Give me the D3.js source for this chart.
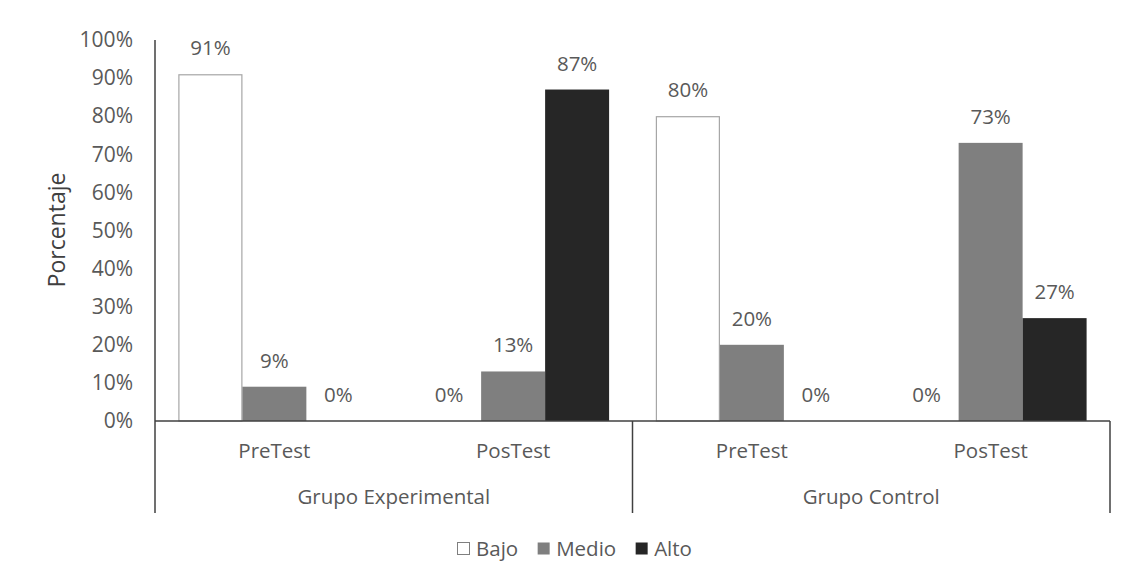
<!DOCTYPE html>
<html><head><meta charset="utf-8">
<script src="https://cdn.jsdelivr.net/npm/d3@7"></script>
<style>body{margin:0;background:#fff}</style>
</head><body>
<script>
const groups = ["Grupo Experimental", "Grupo Control"];
const tests = ["PreTest", "PosTest"];
const seriesNames = ["Bajo", "Medio", "Alto"];
const bajo  = [91, 0, 80, 0];
const medio = [9, 13, 20, 73];
const alto  = [0, 87, 0, 27];
const yTicks = [0,10,20,30,40,50,60,70,80,90,100];

const W = 1124, H = 575;
const m = {left:155, right:14, top:40, bottom:154};
const fills = {Bajo:"#ffffff", Medio:"#7f7f7f", Alto:"#262626"};
const strokes = {Bajo:"#a6a6a6", Medio:"none", Alto:"none"};
const font = "'Open Sans', sans-serif";
const txt = "#595959";
const fs = 20.5;

const svg = d3.select("body").append("svg").attr("width",W).attr("height",H);
const cats = [];
groups.forEach(g => tests.forEach(t => cats.push(g+"|"+t)));
const values = {Bajo:bajo, Medio:medio, Alto:alto};

const x0 = d3.scaleBand().domain(cats).range([m.left, W-m.right]).paddingInner(0.196).paddingOuter(0.098);
const x1 = d3.scaleBand().domain(seriesNames).range([0, x0.bandwidth()]);
const y = d3.scaleLinear().domain([0,100]).range([H-m.bottom, m.top]);
const y0 = y(0);

// bars
cats.forEach((c,i) => {
  seriesNames.forEach(s => {
    const v = values[s][i];
    const bx = x0(c)+x1(s);
    if (v>0) {
      svg.append("rect").attr("x", bx+(s==="Bajo"?0.5:0)).attr("y", y(v)+(s==="Bajo"?0.5:0))
        .attr("width", x1.bandwidth()-(s==="Bajo"?1:0)).attr("height", y0-y(v)-(s==="Bajo"?0.5:0))
        .attr("fill", fills[s]).attr("stroke", strokes[s]).attr("stroke-width",1.2);
    }
    svg.append("text").attr("x", bx+x1.bandwidth()/2).attr("y", y(v)-19)
      .attr("text-anchor","middle").attr("font-family",font).attr("font-size",fs).attr("fill",txt)
      .text(v+"%");
  });
});

// y axis
const yAxis = d3.axisLeft(y).tickValues(yTicks).tickFormat(d=>d+"%").tickSize(0).tickPadding(22);
const ga = svg.append("g").attr("transform",`translate(${m.left},0)`).call(yAxis);
ga.select(".domain").remove();
ga.selectAll("text").attr("font-family",font).attr("font-size",21).attr("fill",txt);

// axis lines
const lc = "#404040";
svg.append("line").attr("x1",m.left).attr("x2",m.left).attr("y1",m.top).attr("y2",513).attr("stroke",lc).attr("stroke-width",1.5);
svg.append("line").attr("x1",m.left).attr("x2",W-m.right).attr("y1",y0).attr("y2",y0).attr("stroke",lc).attr("stroke-width",1.5);
const gx = d3.scaleBand().domain(groups).range([m.left, W-m.right]);
groups.forEach((g,i)=>{
  const xr = gx(g)+gx.bandwidth();
  svg.append("line").attr("x1",xr).attr("x2",xr).attr("y1",y0).attr("y2",513).attr("stroke",lc).attr("stroke-width",1.5);
  svg.append("text").attr("x", gx(g)+gx.bandwidth()/2).attr("y",504).attr("text-anchor","middle")
    .attr("font-family",font).attr("font-size",fs).attr("fill",txt).text(g);
});
cats.forEach(c=>{
  svg.append("text").attr("x", x0(c)+x0.bandwidth()/2).attr("y",458).attr("text-anchor","middle")
    .attr("font-family",font).attr("font-size",fs).attr("fill",txt).text(c.split("|")[1]);
});

// y title
svg.append("text").attr("transform","translate(65,230) rotate(-90)").attr("text-anchor","middle")
  .attr("font-family",font).attr("font-size",23).attr("fill","#404040").text("Porcentaje");

// legend
const leg = svg.append("g");
let lx = 457;
seriesNames.forEach(s=>{
  leg.append("rect").attr("x",lx+0.5).attr("y",542.5).attr("width",12).attr("height",12)
    .attr("fill",fills[s]).attr("stroke", s==="Bajo"?"#7f7f7f":"none");
  const t = leg.append("text").attr("x",lx+19).attr("y",556).attr("font-family",font).attr("font-size",fs).attr("fill",txt).text(s);
  lx += 19 + t.node().getComputedTextLength() + 19;
});
</script>
</body></html>
